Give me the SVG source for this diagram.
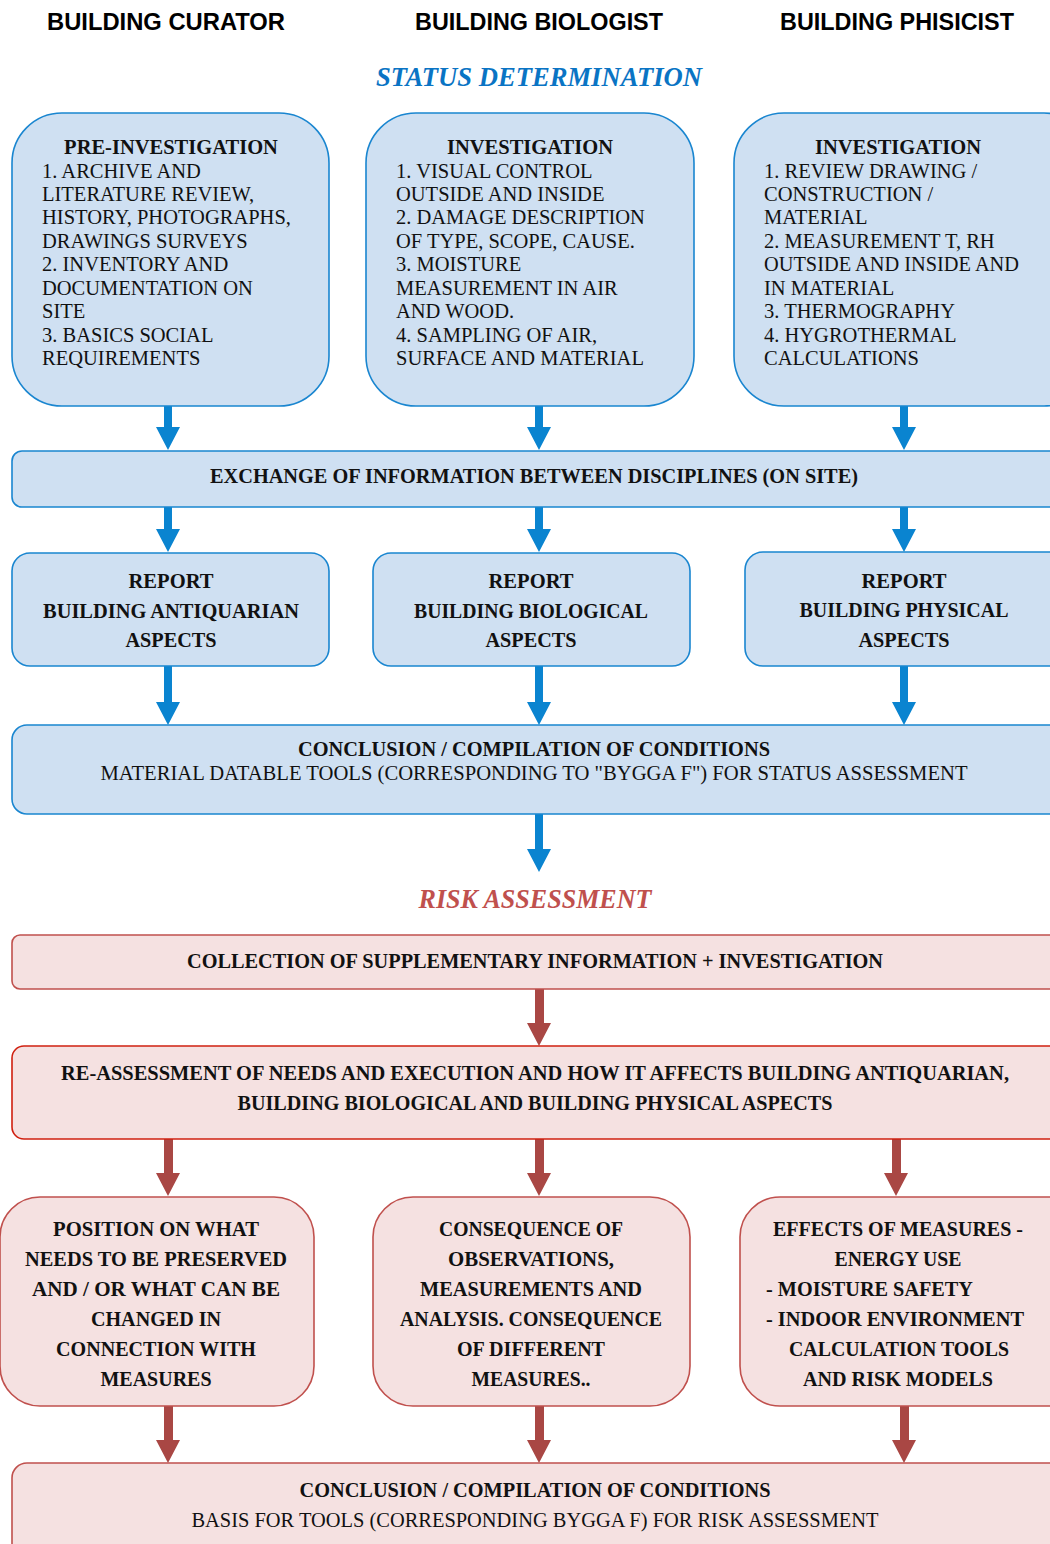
<svg xmlns="http://www.w3.org/2000/svg" width="1050" height="1544" viewBox="0 0 1050 1544">
<style>
.hdr{font-family:"Liberation Sans",Arial,sans-serif;font-weight:bold;font-size:23px;fill:#000}
.sec{font-family:"Liberation Serif","Times New Roman",serif;font-weight:bold;font-style:italic;font-size:27px}
.bb{fill:#cfe0f2;stroke:#1a86d0;stroke-width:1.6}
.rb{fill:#f5e1e1;stroke:#c0504d;stroke-width:1.6}
.rb2{fill:#f5e1e1;stroke:#d02010;stroke-width:1.6}
.t{font-family:"Liberation Serif","Times New Roman",serif;font-size:20.5px;fill:#111}
.tb{font-family:"Liberation Serif","Times New Roman",serif;font-size:20.5px;font-weight:bold;fill:#111}
.cb{font-family:"Liberation Serif","Times New Roman",serif;font-weight:bold;font-size:21.5px;fill:#111}
.cr{font-family:"Liberation Serif","Times New Roman",serif;font-size:21px;fill:#111}
.ab{fill:#0a84d0}
.ar{fill:#a94744}
</style>

<g id="headers">
<text class="hdr" x="166" y="30" text-anchor="middle" textLength="238" lengthAdjust="spacingAndGlyphs">BUILDING CURATOR</text>
<text class="hdr" x="539" y="30" text-anchor="middle" textLength="248" lengthAdjust="spacingAndGlyphs">BUILDING BIOLOGIST</text>
<text class="hdr" x="897" y="30" text-anchor="middle" textLength="234" lengthAdjust="spacingAndGlyphs">BUILDING PHISICIST</text>
<text class="sec" x="539" y="86" text-anchor="middle" fill="#0a74c4" textLength="326" lengthAdjust="spacingAndGlyphs">STATUS DETERMINATION</text>
<text class="sec" x="535" y="908" text-anchor="middle" fill="#c0504d" textLength="233" lengthAdjust="spacingAndGlyphs">RISK ASSESSMENT</text>
</g>

<g id="connectors">
<polygon class="ab" points="164,406 172,406 172,427 180,427 168,450 156,427 164,427"/>
<polygon class="ab" points="535,406 543,406 543,427 551,427 539,450 527,427 535,427"/>
<polygon class="ab" points="900,406 908,406 908,427 916,427 904,450 892,427 900,427"/>
<polygon class="ab" points="164,507 172,507 172,529 180,529 168,552 156,529 164,529"/>
<polygon class="ab" points="535,507 543,507 543,529 551,529 539,552 527,529 535,529"/>
<polygon class="ab" points="900,507 908,507 908,529 916,529 904,552 892,529 900,529"/>
<polygon class="ab" points="164,666 172,666 172,702 180,702 168,725 156,702 164,702"/>
<polygon class="ab" points="535,666 543,666 543,702 551,702 539,725 527,702 535,702"/>
<polygon class="ab" points="900,666 908,666 908,702 916,702 904,725 892,702 900,702"/>
<polygon class="ab" points="535,814 543,814 543,849 551,849 539,872 527,849 535,849"/>
<polygon class="ar" points="535,989 544,989 544,1023 551,1023 539,1046 527,1023 535,1023"/>
<polygon class="ar" points="164,1139 173,1139 173,1173 180,1173 168,1196 156,1173 164,1173"/>
<polygon class="ar" points="535,1139 544,1139 544,1173 551,1173 539,1196 527,1173 535,1173"/>
<polygon class="ar" points="892,1139 901,1139 901,1173 908,1173 896,1196 884,1173 892,1173"/>
<polygon class="ar" points="164,1406 173,1406 173,1440 180,1440 168,1463 156,1440 164,1440"/>
<polygon class="ar" points="535,1406 544,1406 544,1440 551,1440 539,1463 527,1440 535,1440"/>
<polygon class="ar" points="900,1406 909,1406 909,1440 916,1440 904,1463 892,1440 900,1440"/>
</g>

<g id="pre-investigation">
<rect class="bb" x="12" y="113" width="317" height="293" rx="50"/>
<text class="tb" x="171" y="154" text-anchor="middle">PRE-INVESTIGATION</text>
<text class="t" x="42" y="178">1. ARCHIVE AND</text>
<text class="t" x="42" y="201">LITERATURE REVIEW,</text>
<text class="t" x="42" y="224">HISTORY, PHOTOGRAPHS,</text>
<text class="t" x="42" y="248">DRAWINGS SURVEYS</text>
<text class="t" x="42" y="271">2. INVENTORY AND</text>
<text class="t" x="42" y="295">DOCUMENTATION ON</text>
<text class="t" x="42" y="318">SITE</text>
<text class="t" x="42" y="342">3. BASICS SOCIAL</text>
<text class="t" x="42" y="365">REQUIREMENTS</text>
</g>

<g id="investigation-bio">
<rect class="bb" x="366" y="113" width="328" height="293" rx="50"/>
<text class="tb" x="530" y="154" text-anchor="middle">INVESTIGATION</text>
<text class="t" x="396" y="178">1. VISUAL CONTROL</text>
<text class="t" x="396" y="201">OUTSIDE AND INSIDE</text>
<text class="t" x="396" y="224">2. DAMAGE DESCRIPTION</text>
<text class="t" x="396" y="248">OF TYPE, SCOPE, CAUSE.</text>
<text class="t" x="396" y="271">3. MOISTURE</text>
<text class="t" x="396" y="295">MEASUREMENT IN AIR</text>
<text class="t" x="396" y="318">AND WOOD.</text>
<text class="t" x="396" y="342">4. SAMPLING OF AIR,</text>
<text class="t" x="396" y="365">SURFACE AND MATERIAL</text>
</g>

<g id="investigation-phys">
<rect class="bb" x="734" y="113" width="360" height="293" rx="50"/>
<text class="tb" x="898" y="154" text-anchor="middle">INVESTIGATION</text>
<text class="t" x="764" y="178">1. REVIEW DRAWING /</text>
<text class="t" x="764" y="201">CONSTRUCTION /</text>
<text class="t" x="764" y="224">MATERIAL</text>
<text class="t" x="764" y="248">2. MEASUREMENT T, RH</text>
<text class="t" x="764" y="271" textLength="255" lengthAdjust="spacingAndGlyphs">OUTSIDE AND INSIDE AND</text>
<text class="t" x="764" y="295">IN MATERIAL</text>
<text class="t" x="764" y="318">3. THERMOGRAPHY</text>
<text class="t" x="764" y="342">4. HYGROTHERMAL</text>
<text class="t" x="764" y="365">CALCULATIONS</text>
</g>

<g id="exchange">
<rect class="bb" x="12" y="451" width="1060" height="56" rx="10"/>
<text class="cb" x="534" y="483" text-anchor="middle" textLength="648" lengthAdjust="spacingAndGlyphs">EXCHANGE OF INFORMATION BETWEEN DISCIPLINES (ON SITE)</text>
</g>

<g id="report-antiquarian">
<rect class="bb" x="12" y="553" width="317" height="113" rx="18"/>
<text class="cb" x="171" y="588" text-anchor="middle" textLength="85" lengthAdjust="spacingAndGlyphs">REPORT</text>
<text class="cb" x="171" y="618" text-anchor="middle" textLength="256" lengthAdjust="spacingAndGlyphs">BUILDING ANTIQUARIAN</text>
<text class="cb" x="171" y="647" text-anchor="middle" textLength="91" lengthAdjust="spacingAndGlyphs">ASPECTS</text>
</g>

<g id="report-biological">
<rect class="bb" x="373" y="553" width="317" height="113" rx="18"/>
<text class="cb" x="531" y="588" text-anchor="middle" textLength="85" lengthAdjust="spacingAndGlyphs">REPORT</text>
<text class="cb" x="531" y="618" text-anchor="middle" textLength="234" lengthAdjust="spacingAndGlyphs">BUILDING BIOLOGICAL</text>
<text class="cb" x="531" y="647" text-anchor="middle" textLength="91" lengthAdjust="spacingAndGlyphs">ASPECTS</text>
</g>

<g id="report-physical">
<rect class="bb" x="745" y="552" width="340" height="114" rx="18"/>
<text class="cb" x="904" y="588" text-anchor="middle" textLength="85" lengthAdjust="spacingAndGlyphs">REPORT</text>
<text class="cb" x="904" y="617" text-anchor="middle" textLength="209" lengthAdjust="spacingAndGlyphs">BUILDING PHYSICAL</text>
<text class="cb" x="904" y="647" text-anchor="middle" textLength="91" lengthAdjust="spacingAndGlyphs">ASPECTS</text>
</g>

<g id="conclusion-status">
<rect class="bb" x="12" y="725" width="1060" height="89" rx="15"/>
<text class="tb" x="534" y="756" text-anchor="middle" textLength="472" lengthAdjust="spacingAndGlyphs">CONCLUSION / COMPILATION OF CONDITIONS</text>
<text class="t" x="534" y="780" text-anchor="middle" textLength="867" lengthAdjust="spacingAndGlyphs">MATERIAL DATABLE TOOLS (CORRESPONDING TO "BYGGA F") FOR STATUS ASSESSMENT</text>
</g>

<g id="collection">
<rect class="rb" x="12" y="935" width="1060" height="54" rx="8"/>
<text class="cb" x="535" y="968" text-anchor="middle" textLength="696" lengthAdjust="spacingAndGlyphs">COLLECTION OF SUPPLEMENTARY INFORMATION + INVESTIGATION</text>
</g>

<g id="re-assessment">
<rect class="rb2" x="12" y="1046" width="1060" height="93" rx="12"/>
<text class="cb" x="535" y="1080" text-anchor="middle" font-size="19" textLength="948" lengthAdjust="spacingAndGlyphs">RE-ASSESSMENT OF NEEDS AND EXECUTION AND HOW IT AFFECTS BUILDING ANTIQUARIAN,</text>
<text class="cb" x="535" y="1110" text-anchor="middle" textLength="595" lengthAdjust="spacingAndGlyphs">BUILDING BIOLOGICAL AND BUILDING PHYSICAL ASPECTS</text>
</g>

<g id="position">
<rect class="rb" x="0" y="1197" width="314" height="209" rx="40"/>
<text class="cb" x="156" y="1236" text-anchor="middle" textLength="206" lengthAdjust="spacingAndGlyphs">POSITION ON WHAT</text>
<text class="cb" x="156" y="1266" text-anchor="middle" textLength="262" lengthAdjust="spacingAndGlyphs">NEEDS TO BE PRESERVED</text>
<text class="cb" x="156" y="1296" text-anchor="middle" textLength="248" lengthAdjust="spacingAndGlyphs">AND / OR WHAT CAN BE</text>
<text class="cb" x="156" y="1326" text-anchor="middle" textLength="130" lengthAdjust="spacingAndGlyphs">CHANGED IN</text>
<text class="cb" x="156" y="1356" text-anchor="middle" textLength="200" lengthAdjust="spacingAndGlyphs">CONNECTION WITH</text>
<text class="cb" x="156" y="1386" text-anchor="middle" textLength="111" lengthAdjust="spacingAndGlyphs">MEASURES</text>
</g>

<g id="consequence">
<rect class="rb" x="373" y="1197" width="317" height="209" rx="40"/>
<text class="cb" x="531" y="1236" text-anchor="middle" textLength="184" lengthAdjust="spacingAndGlyphs">CONSEQUENCE OF</text>
<text class="cb" x="531" y="1266" text-anchor="middle" textLength="166" lengthAdjust="spacingAndGlyphs">OBSERVATIONS,</text>
<text class="cb" x="531" y="1296" text-anchor="middle" textLength="222" lengthAdjust="spacingAndGlyphs">MEASUREMENTS AND</text>
<text class="cb" x="531" y="1326" text-anchor="middle" textLength="262" lengthAdjust="spacingAndGlyphs">ANALYSIS. CONSEQUENCE</text>
<text class="cb" x="531" y="1356" text-anchor="middle" textLength="148" lengthAdjust="spacingAndGlyphs">OF DIFFERENT</text>
<text class="cb" x="531" y="1386" text-anchor="middle" textLength="119" lengthAdjust="spacingAndGlyphs">MEASURES..</text>
</g>

<g id="effects">
<rect class="rb" x="740" y="1197" width="350" height="209" rx="40"/>
<text class="cb" x="898" y="1236" text-anchor="middle" textLength="250" lengthAdjust="spacingAndGlyphs">EFFECTS OF MEASURES -</text>
<text class="cb" x="898" y="1266" text-anchor="middle" textLength="127" lengthAdjust="spacingAndGlyphs">ENERGY USE</text>
<text class="cb" x="766" y="1296" textLength="207" lengthAdjust="spacingAndGlyphs">- MOISTURE SAFETY</text>
<text class="cb" x="766" y="1326" textLength="258" lengthAdjust="spacingAndGlyphs">- INDOOR ENVIRONMENT</text>
<text class="cb" x="899" y="1356" text-anchor="middle" textLength="220" lengthAdjust="spacingAndGlyphs">CALCULATION TOOLS</text>
<text class="cb" x="898" y="1386" text-anchor="middle" textLength="190" lengthAdjust="spacingAndGlyphs">AND RISK MODELS</text>
</g>

<g id="conclusion-risk">
<rect class="rb" x="12" y="1463" width="1060" height="100" rx="15"/>
<text class="cb" x="535" y="1497" text-anchor="middle" textLength="471" lengthAdjust="spacingAndGlyphs">CONCLUSION / COMPILATION OF CONDITIONS</text>
<text class="cr" x="535" y="1527" text-anchor="middle" textLength="687" lengthAdjust="spacingAndGlyphs">BASIS FOR TOOLS (CORRESPONDING BYGGA F) FOR RISK ASSESSMENT</text>
</g>
</svg>
